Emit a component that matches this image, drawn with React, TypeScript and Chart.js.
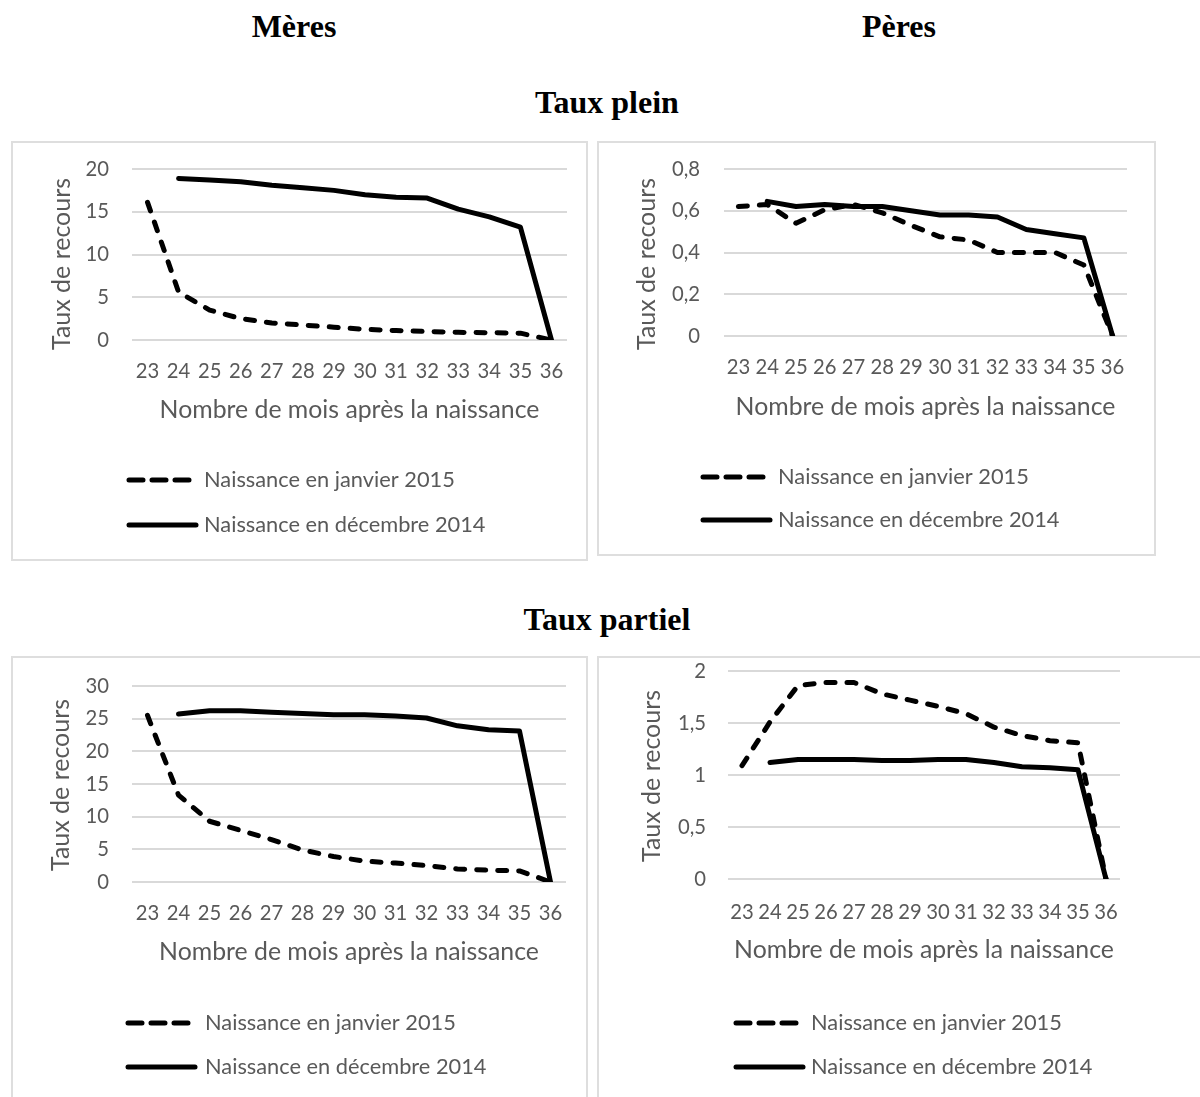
import React, { useEffect, useRef } from 'react';
import { Chart, registerables } from 'chart.js';

Chart.register(...registerables);

// ---------- data ----------
const categories = ['23', '24', '25', '26', '27', '28', '29', '30', '31', '32', '33', '34', '35', '36'];
const legendLabels = ['Naissance en janvier 2015', 'Naissance en décembre 2014'];
const xTitle = 'Nombre de mois après la naissance';
const yTitle = 'Taux de recours';

const meresPleinJanv = [16.1, 5.6, 3.5, 2.5, 2.0, 1.75, 1.5, 1.25, 1.1, 1.0, 0.9, 0.85, 0.8, 0];
const meresPleinDec = [null, 18.9, 18.7, 18.5, 18.1, 17.8, 17.5, 17.0, 16.7, 16.6, 15.3, 14.4, 13.2, 0];
const meresPleinTicks = [0, 5, 10, 15, 20];
const meresPleinTickLabels = ['0', '5', '10', '15', '20'];

const peresPleinJanv = [0.62, 0.63, 0.54, 0.605, 0.63, 0.59, 0.53, 0.475, 0.46, 0.4, 0.4, 0.4, 0.34, 0];
const peresPleinDec = [null, 0.645, 0.62, 0.63, 0.62, 0.62, 0.6, 0.58, 0.58, 0.57, 0.51, 0.49, 0.47, 0];
const peresPleinTicks = [0, 0.2, 0.4, 0.6, 0.8];
const peresPleinTickLabels = ['0', '0,2', '0,4', '0,6', '0,8'];

const meresPartielJanv = [25.5, 13.3, 9.3, 7.9, 6.5, 4.9, 3.9, 3.2, 2.9, 2.5, 2.0, 1.8, 1.7, 0];
const meresPartielDec = [null, 25.7, 26.2, 26.2, 26.0, 25.8, 25.6, 25.6, 25.4, 25.1, 23.9, 23.3, 23.1, 0];
const meresPartielTicks = [0, 5, 10, 15, 20, 25, 30];
const meresPartielTickLabels = ['0', '5', '10', '15', '20', '25', '30'];

const peresPartielJanv = [1.09, 1.51, 1.86, 1.89, 1.89, 1.78, 1.72, 1.66, 1.59, 1.46, 1.38, 1.33, 1.31, 0];
const peresPartielDec = [null, 1.12, 1.15, 1.15, 1.15, 1.14, 1.14, 1.15, 1.15, 1.12, 1.08, 1.07, 1.05, 0];
const peresPartielTicks = [0, 0.5, 1, 1.5, 2];
const peresPartielTickLabels = ['0', '0,5', '1', '1,5', '2'];

// ---------- styles ----------
const FONT = 'Lato';
const TEXT = '#595959';
const GRID = '#d9d9d9';
const LINE_W = 5;
const PLOT_DASH = [9, 12];
const LEGEND_DASH = [14, 9];

function fitSize(text: string, target: number): number {
  const c = document.createElement('canvas').getContext('2d')!;
  c.font = `100px ${FONT}`;
  return (100 * target) / c.measureText(text).width;
}

type Layout = {
  box: { left: number; top: number; width: number; height: number; noBottom?: boolean; noRight?: boolean };
  plot: { L: number; R: number; T: number; B: number };
  yTickRight: number;
  yTitleX: number;
  yTitleY: number;
  xLabelY: number;
  xTitleY: number;
  legendY: number[];
  legendX: number;
  legendTextX: number;
};

type Cfg = {
  janv: (number | null)[];
  dec: (number | null)[];
  ticks: number[];
  tickLabels: string[];
  layout: Layout;
};

const charts: Cfg[] = [
  {
    janv: meresPleinJanv, dec: meresPleinDec, ticks: meresPleinTicks, tickLabels: meresPleinTickLabels,
    layout: {
      box: { left: 11, top: 141, width: 577, height: 420 },
      plot: { L: 132, R: 567, T: 169, B: 340 },
      yTickRight: 109, yTitleX: 62, yTitleY: 264, xLabelY: 371, xTitleY: 410,
      legendY: [480, 525], legendX: 129, legendTextX: 204,
    },
  },
  {
    janv: peresPleinJanv, dec: peresPleinDec, ticks: peresPleinTicks, tickLabels: peresPleinTickLabels,
    layout: {
      box: { left: 597, top: 141, width: 559, height: 415 },
      plot: { L: 724, R: 1127, T: 169, B: 336 },
      yTickRight: 700, yTitleX: 647, yTitleY: 264, xLabelY: 367, xTitleY: 407,
      legendY: [477, 520], legendX: 703, legendTextX: 778,
    },
  },
  {
    janv: meresPartielJanv, dec: meresPartielDec, ticks: meresPartielTicks, tickLabels: meresPartielTickLabels,
    layout: {
      box: { left: 11, top: 656, width: 577, height: 441, noBottom: true },
      plot: { L: 132, R: 566, T: 686, B: 882 },
      yTickRight: 109, yTitleX: 61, yTitleY: 785, xLabelY: 913, xTitleY: 952,
      legendY: [1023, 1067], legendX: 128, legendTextX: 205,
    },
  },
  {
    janv: peresPartielJanv, dec: peresPartielDec, ticks: peresPartielTicks, tickLabels: peresPartielTickLabels,
    layout: {
      box: { left: 597, top: 656, width: 603, height: 441, noBottom: true, noRight: true },
      plot: { L: 728, R: 1120, T: 671, B: 879 },
      yTickRight: 706, yTitleX: 652, yTitleY: 776, xLabelY: 912, xTitleY: 950,
      legendY: [1023, 1067], legendX: 736, legendTextX: 811,
    },
  },
];

function LineChart({ cfg }: { cfg: Cfg }) {
  const ref = useRef<HTMLCanvasElement>(null);
  const lay = cfg.layout;
  const { box, plot } = lay;

  useEffect(() => {
    const tickSize = fitSize('23', 23.5);
    const xTitleSize = fitSize(xTitle, 380);
    const legendSize = fitSize(legendLabels[0], 251);
    const yTitleSize = fitSize(yTitle, 172);

    const T = plot.T - box.top;
    const Brel = plot.B - box.top;
    const L = plot.L - box.left;
    const R = plot.R - box.left;
    const tickPad = lay.xLabelY - plot.B - (tickSize * 1.2) / 2;
    const xH = lay.xTitleY - plot.B + (xTitleSize * 1.2) / 2;
    const padBottom = box.height - Brel - xH;
    const yPad = plot.L - lay.yTickRight;

    const overlay = {
      id: 'overlay',
      afterDraw(chart: any) {
        const ctx = chart.ctx as CanvasRenderingContext2D;
        // y axis title
        ctx.save();
        ctx.translate(lay.yTitleX - box.left, lay.yTitleY - box.top);
        ctx.rotate(-Math.PI / 2);
        ctx.font = `${yTitleSize}px ${FONT}`;
        ctx.fillStyle = TEXT;
        ctx.textAlign = 'center';
        ctx.textBaseline = 'middle';
        ctx.fillText(yTitle, 0, 0);
        ctx.restore();
        // legend
        chart.data.datasets.forEach((ds: any, i: number) => {
          const y = lay.legendY[i] - box.top;
          const x1 = lay.legendX - box.left;
          const dashed = ds.borderDash && ds.borderDash.length > 0;
          ctx.save();
          ctx.strokeStyle = ds.borderColor;
          ctx.lineWidth = ds.borderWidth;
          ctx.lineCap = 'round';
          ctx.setLineDash(dashed ? LEGEND_DASH : []);
          ctx.beginPath();
          ctx.moveTo(x1, y);
          ctx.lineTo(x1 + (dashed ? 60 : 67), y);
          ctx.stroke();
          ctx.restore();
          ctx.save();
          ctx.font = `${legendSize}px ${FONT}`;
          ctx.fillStyle = TEXT;
          ctx.textAlign = 'left';
          ctx.textBaseline = 'middle';
          ctx.fillText(ds.label, lay.legendTextX - box.left, y);
          ctx.restore();
        });
      },
    };

    const chart = new Chart(ref.current!, {
      type: 'line',
      data: {
        labels: categories,
        datasets: [
          {
            label: legendLabels[0],
            data: cfg.janv as any,
            borderColor: '#000000',
            backgroundColor: '#000000',
            borderWidth: LINE_W,
            borderDash: PLOT_DASH,
            borderCapStyle: 'round',
            borderJoinStyle: 'round',
            pointRadius: 0,
            pointHoverRadius: 0,
            tension: 0,
            fill: false,
          },
          {
            label: legendLabels[1],
            data: cfg.dec as any,
            borderColor: '#000000',
            backgroundColor: '#000000',
            borderWidth: LINE_W,
            borderDash: [],
            borderCapStyle: 'round',
            borderJoinStyle: 'round',
            pointRadius: 0,
            pointHoverRadius: 0,
            tension: 0,
            fill: false,
          },
        ],
      },
      options: {
        animation: false,
        responsive: true,
        maintainAspectRatio: false,
        events: [],
        layout: { padding: { top: T, left: 0, right: box.width - R, bottom: padBottom } },
        plugins: { legend: { display: false }, tooltip: { enabled: false }, title: { display: false } },
        scales: {
          x: {
            type: 'category',
            offset: true,
            grid: { display: false, drawTicks: false },
            border: { display: false },
            ticks: {
              autoSkip: false,
              maxRotation: 0,
              minRotation: 0,
              padding: tickPad,
              color: TEXT,
              font: { family: FONT, size: tickSize },
            },
            title: {
              display: true,
              text: xTitle,
              color: TEXT,
              font: { family: FONT, size: xTitleSize },
              padding: { top: 0, bottom: 0 },
            },
            afterFit: (s: any) => {
              s.height = xH;
              s.paddingLeft = 0;
              s.paddingRight = 0;
            },
          },
          y: {
            type: 'linear',
            min: cfg.ticks[0],
            max: cfg.ticks[cfg.ticks.length - 1],
            grid: { color: GRID, lineWidth: 2, drawTicks: false },
            border: { display: false },
            afterBuildTicks: (s: any) => {
              s.ticks = cfg.ticks.map((v) => ({ value: v }));
            },
            ticks: {
              padding: yPad,
              color: TEXT,
              font: { family: FONT, size: tickSize },
              callback: (_v: any, i: number) => cfg.tickLabels[i],
            },
            afterFit: (s: any) => {
              s.width = L;
              s.paddingTop = 0;
              s.paddingBottom = 0;
            },
          },
        },
      },
      plugins: [overlay],
    });
    return () => chart.destroy();
  }, []);

  return (
    <>
      <div
        style={{
          position: 'absolute',
          left: box.left,
          top: box.top,
          width: box.width,
          height: box.height,
          boxSizing: 'border-box',
          borderTop: `2px solid #dedede`,
          borderLeft: `2px solid #dedede`,
          borderRight: box.noRight ? 'none' : `2px solid #dedede`,
          borderBottom: box.noBottom ? 'none' : `2px solid #dedede`,
        }}
      />
      <div style={{ position: 'absolute', left: box.left, top: box.top, width: box.width, height: box.height }}>
        <canvas ref={ref} />
      </div>
    </>
  );
}

function Heading({ text, cx, top }: { text: string; cx: number; top: number }) {
  return (
    <div
      style={{
        position: 'absolute',
        left: cx - 200,
        top,
        width: 400,
        textAlign: 'center',
        fontFamily: '"Liberation Serif", "Times New Roman", serif',
        fontWeight: 'bold',
        fontSize: 32,
        lineHeight: '32px',
        color: '#000',
      }}
    >
      {text}
    </div>
  );
}

export default function App() {
  return (
    <div style={{ position: 'absolute', left: 0, top: 0, width: 1200, height: 1097, overflow: 'hidden', background: '#fff' }}>
      <Heading text="Mères" cx={294} top={10} />
      <Heading text="Pères" cx={899} top={10} />
      <Heading text="Taux plein" cx={607} top={86} />
      <Heading text="Taux partiel" cx={607} top={603} />
      {charts.map((c, i) => (
        <LineChart key={i} cfg={c} />
      ))}
    </div>
  );
}
